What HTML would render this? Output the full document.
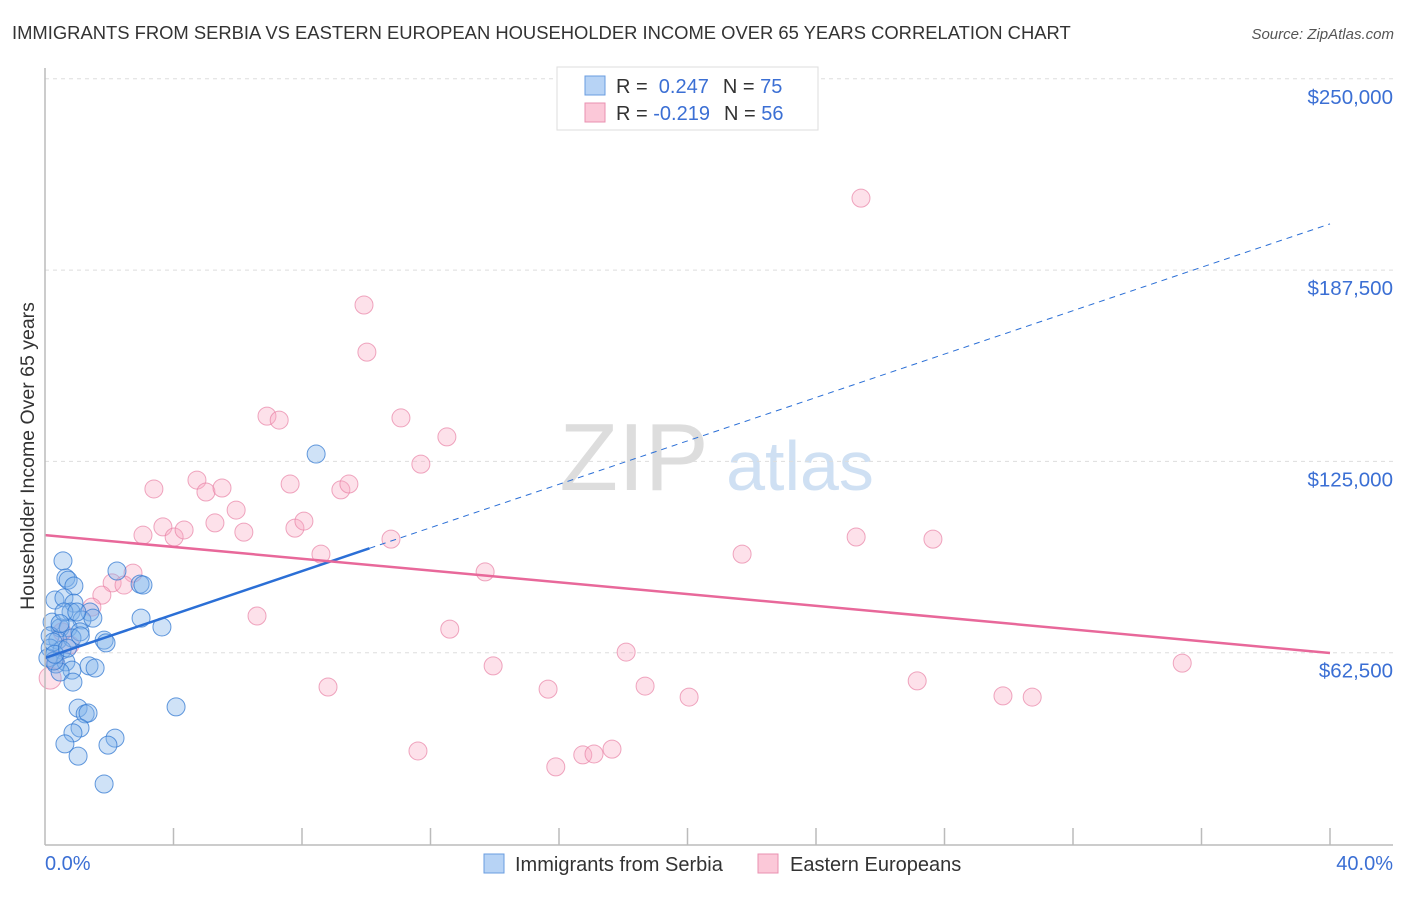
<!DOCTYPE html>
<html><head><meta charset="utf-8"><style>
body{margin:0;background:#fff;font-family:"Liberation Sans",sans-serif}
svg text{font-family:"Liberation Sans",sans-serif}
</style></head><body>
<svg id="chart" width="1406" height="892" viewBox="0 0 1406 892" xmlns="http://www.w3.org/2000/svg">
<text x="12" y="39" font-size="18.4" fill="#333">IMMIGRANTS FROM SERBIA VS EASTERN EUROPEAN HOUSEHOLDER INCOME OVER 65 YEARS CORRELATION CHART</text>
<text x="1394" y="39" font-size="15" fill="#555" font-style="italic" text-anchor="end">Source: ZipAtlas.com</text>
<text x="634" y="490" font-size="96" fill="#ddd" font-family="Liberation Serif" text-anchor="middle">ZIP</text>
<text x="800" y="490" font-size="70" fill="#cfe0f3" text-anchor="middle">atlas</text>
<text transform="translate(34,456) rotate(-90)" font-size="19.5" fill="#333" text-anchor="middle">Householder Income Over 65 years</text>
<g id="grid"></g><g id="pts"></g><g id="trend"></g>
<line x1="45" y1="68" x2="45" y2="845" stroke="#bbb" stroke-width="1.5"/>
<line x1="45" y1="845" x2="1393" y2="845" stroke="#bbb" stroke-width="1.5"/>
<text x="45" y="870" font-size="20" fill="#3b6fd4">0.0%</text>
<text x="1393" y="870" font-size="20" fill="#3b6fd4" text-anchor="end">40.0%</text>
<g>
<rect x="557" y="67" width="261" height="63" fill="#fff" stroke="#ddd"/>
<rect x="585" y="76" width="20" height="19" fill="#b7d3f5" stroke="#6a9de0"/>
<rect x="585" y="103" width="20" height="19" fill="#fbc8d8" stroke="#e990b0"/>
<text x="616" y="93" font-size="20" fill="#333">R = <tspan fill="#3b6fd4">&#160;0.247</tspan><tspan dx="14">N = </tspan><tspan fill="#3b6fd4">75</tspan></text>
<text x="616" y="120" font-size="20" fill="#333">R = <tspan fill="#3b6fd4">-0.219</tspan><tspan dx="14">N = </tspan><tspan fill="#3b6fd4">56</tspan></text>
</g>
<g>
<rect x="484" y="854" width="20" height="19" fill="#b7d3f5" stroke="#6a9de0"/>
<text x="515" y="871" font-size="20" fill="#333">Immigrants from Serbia</text>
<rect x="758" y="854" width="20" height="19" fill="#fbc8d8" stroke="#e990b0"/>
<text x="790" y="871" font-size="20" fill="#333">Eastern Europeans</text>
</g>
</svg>
<script>
const yTicks=[62500,125000,187500,250000];
const yTickLabels=["$62,500","$125,000","$187,500","$250,000"];
const xTicks=[4,8,12,16,20,24,28,32,36,40];
const blueX=[0.56,0.65,0.72,0.9,2.24,2.96,3.05,0.31,0.59,0.9,0.81,1.4,1.15,1.49,0.22,0.47,0.72,1.09,2.99,3.64,0.16,0.4,0.84,1.84,1.9,0.16,0.53,0.09,0.34,0.65,0.84,1.37,1.56,0.47,0.87,8.44,4.08,1.03,1.25,1.34,1.09,0.87,2.18,0.62,1.96,1.03,1.84,0.28,0.59,0.99,0.47,0.25,1.1,0.3,0.7];
const blueY=[92.5,86.9,86.2,84.3,89.2,84.9,84.6,79.7,80.4,78.7,75.8,75.8,73.2,73.8,72.5,70.6,70.6,69.3,73.8,70.9,68,66.6,67.3,66.6,65.7,64,63.4,60.8,58.8,59.5,56.8,58.2,57.5,56.2,52.9,127.4,44.8,44.4,42.5,42.8,37.9,36.3,34.6,32.7,32.3,28.7,19.6,59.8,75.8,75.8,72,66,68,62,64];
const pinkX=[25.4,9.93,10.02,6.91,7.29,11.08,12.51,11.7,3.39,4.73,5.01,5.51,7.63,9.21,9.46,5.95,3.67,4.02,4.33,5.29,6.19,7.78,8.06,3.05,8.59,10.77,21.7,25.25,27.64,13.7,2.74,2.09,2.46,1.77,1.46,6.6,12.6,18.09,13.95,35.4,8.81,15.66,18.68,20.05,27.15,29.82,30.73,11.61,15.9,16.74,17.09,17.65,0.78,0.31,0.16,0.53];
const pinkY=[211,176.1,160.7,139.8,138.5,139.2,133,124.1,116,118.9,115,116.3,117.6,115.7,117.6,109.1,103.6,100.3,102.6,104.9,101.9,103.2,105.5,100.9,94.7,99.6,94.7,100.3,99.6,88.9,88.5,85.3,84.6,81.3,77.4,74.5,70.2,62.7,58.2,59.1,51.3,50.6,51.6,48,53.3,48.4,48,30.4,25.2,29.1,29.4,31,65,60.1,54.2,69.3];
const blueTrend=[60.8,202.6];
const pinkTrend=[100.9,62.4];
const blueSolidEnd=[10.1];
const sx=v=>45+v/40*1285, sy=k=>844-k*1000/62500*191.3;
const NS="http://www.w3.org/2000/svg";
function mk(t,a,p){const e=document.createElementNS(NS,t);for(const k in a)e.setAttribute(k,a[k]);p.appendChild(e);return e;}
const grid=document.getElementById('grid');
yTicks.forEach((v,i)=>{
 const l=mk('line',{x1:45,x2:1393,y1:sy(v/1000),y2:sy(v/1000),stroke:'#ddd','stroke-dasharray':'4,4'},grid);
 
 
 const t=mk('text',{x:1393,y:sy(v/1000)+25,'font-size':20.5,fill:'#3b6fd4','text-anchor':'end'},grid);
 t.textContent=yTickLabels[i];
 
 
});
xTicks.forEach(v=>{
 const l=mk('line',{x1:sx(v),x2:sx(v),y1:828,y2:845,stroke:'#bbb','stroke-width':1.5},grid);
 
 
});
const pts=document.getElementById('pts');
pinkX.forEach((x,i)=>{
 const c=mk('circle',{cx:sx(x),cy:sy(pinkY[i]),r:i==54?11:9,fill:'rgba(248,170,196,0.35)',stroke:'rgba(232,130,165,0.7)','stroke-width':1},pts);
 
 
});
blueX.forEach((x,i)=>{
 const c=mk('circle',{cx:sx(x),cy:sy(blueY[i]),r:9,fill:'rgba(130,180,235,0.38)',stroke:'rgba(50,120,210,0.75)','stroke-width':1},pts);
 
 
});
const tr=document.getElementById('trend');
const by=x=>blueTrend[0]+(blueTrend[1]-blueTrend[0])*x/40;
let l=mk('line',{x1:sx(0),y1:sy(by(0)),x2:sx(blueSolidEnd[0]),y2:sy(by(blueSolidEnd[0])),stroke:'#2b6fd6','stroke-width':2.5},tr);


l=mk('line',{x1:sx(blueSolidEnd[0]),y1:sy(by(blueSolidEnd[0])),x2:sx(40),y2:sy(by(40)),stroke:'#2b6fd6','stroke-width':1,'stroke-dasharray':'6,5'},tr);


l=mk('line',{x1:sx(0),y1:sy(pinkTrend[0]),x2:sx(40),y2:sy(pinkTrend[1]),stroke:'#e8689a','stroke-width':2.5},tr);


</script>
</body></html>
